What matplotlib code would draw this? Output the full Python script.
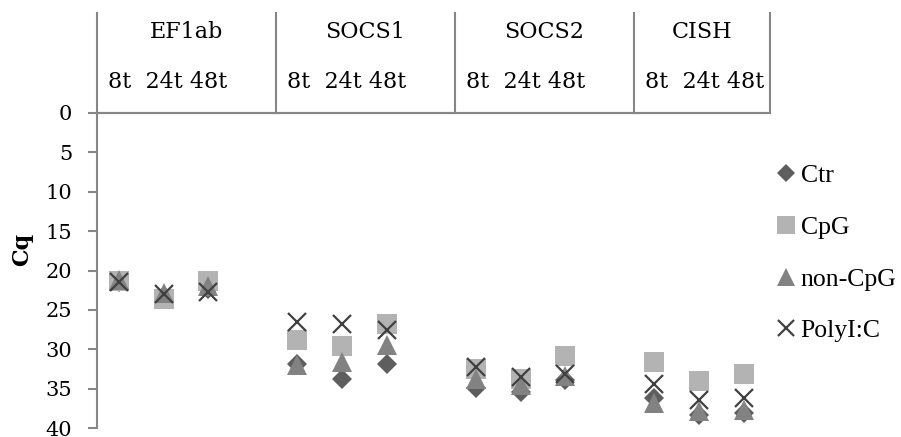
import matplotlib
matplotlib.use("Agg")
import matplotlib.pyplot as plt
from matplotlib.lines import Line2D

plt.rcParams['font.family'] = ['DejaVu Serif', 'Liberation Serif']

genes = ['EF1ab', 'SOCS1', 'SOCS2', 'CISH']
times = ['8t', '24t', '48t']

ctr    = [21.4, 23.2, 22.3, 31.9, 33.8, 31.9, 34.9, 35.4, 33.9, 36.2, 38.3, 38.1]
cpg    = [21.3, 23.6, 21.3, 28.8, 29.6, 26.8, 32.5, 33.8, 30.8, 31.6, 34.0, 33.2]
noncpg = [21.2, 22.9, 22.0, 32.0, 31.6, 29.4, 33.8, 34.5, 33.4, 36.8, 37.9, 37.7]
polyic = [21.4, 23.0, 22.7, 26.5, 26.8, 27.5, 32.2, 33.5, 33.2, 34.4, 36.4, 36.2]

series_names = ['Ctr', 'CpG', 'non-CpG', 'PolyI:C']

W, H = 901, 437
fig = plt.figure(figsize=(W / 100, H / 100), dpi=100)
ax = fig.add_axes([96.7 / W, 1 - 428 / H, (766 - 96.7) / W, (428 - 113) / H])

# x positions: 3 time points per gene, with an empty slot between genes
xs = [g * 4 + t for g in range(len(genes)) for t in range(len(times))]

ax.plot(xs, ctr, linestyle='none', marker='D', markersize=10.3, color='#5e5e5e',
        markeredgewidth=0, label=series_names[0])
ax.plot(xs, cpg, linestyle='none', marker='s', markersize=14.2, color='#b3b3b3',
        markeredgewidth=0, label=series_names[1])
ax.plot(xs, noncpg, linestyle='none', marker='^', markersize=14.2, color='#828282',
        markeredgewidth=0, label=series_names[2])
ax.plot(xs, polyic, linestyle='none', marker='x', markersize=13.5, color='#404040',
        markeredgewidth=1.6, label=series_names[3])

ax.set_xlim(-0.5, 14.5)
ax.set_ylim(40, 0)
ax.set_yticks(range(0, 41, 5))
ax.set_xticks([])

axis_col = '#868686'
for s in ['right', 'bottom']:
    ax.spines[s].set_visible(False)
ax.spines['left'].set_color(axis_col)
ax.spines['top'].set_color(axis_col)
ax.spines['left'].set_linewidth(1.5)
ax.spines['top'].set_linewidth(1.5)
ax.tick_params(axis='y', direction='out', length=6.5, width=1.5, color=axis_col,
               labelsize=15, pad=11)
fig.text(22 / W, 1 - 249 / H, 'Cq', rotation=90, ha='center', va='center',
         fontsize=16, fontweight='bold')

# header table above the plot
sep_x = [96.7, 276, 455, 634, 770]
for x in sep_x:
    fig.add_artist(Line2D([x / W, x / W], [1 - 13 / H, 1 - 113 / H],
                          color=axis_col, linewidth=1.5))
fig.add_artist(Line2D([96.7 / W, 770 / W], [1 - 113 / H, 1 - 113 / H],
                      color=axis_col, linewidth=1.5))
for i, g in enumerate(genes):
    cx = (sep_x[i] + sep_x[i + 1]) / 2
    fig.text(cx / W, 1 - 38 / H, g, ha='center', va='baseline', fontsize=16)
    fig.text((sep_x[i] + 11) / W, 1 - 88 / H, '8t  24t 48t', ha='left',
             va='baseline', fontsize=16)

leg = ax.legend(loc='upper left', bbox_to_anchor=(776 / W, 1 - 164 / H),
                bbox_transform=fig.transFigure, frameon=False,
                prop={'family': 'Liberation Serif', 'size': 18.5},
                handlelength=0.8, handletextpad=0.16, labelspacing=1.12,
                borderpad=0, borderaxespad=0, markerscale=0.87)

fig.savefig('out.png', dpi=100)
